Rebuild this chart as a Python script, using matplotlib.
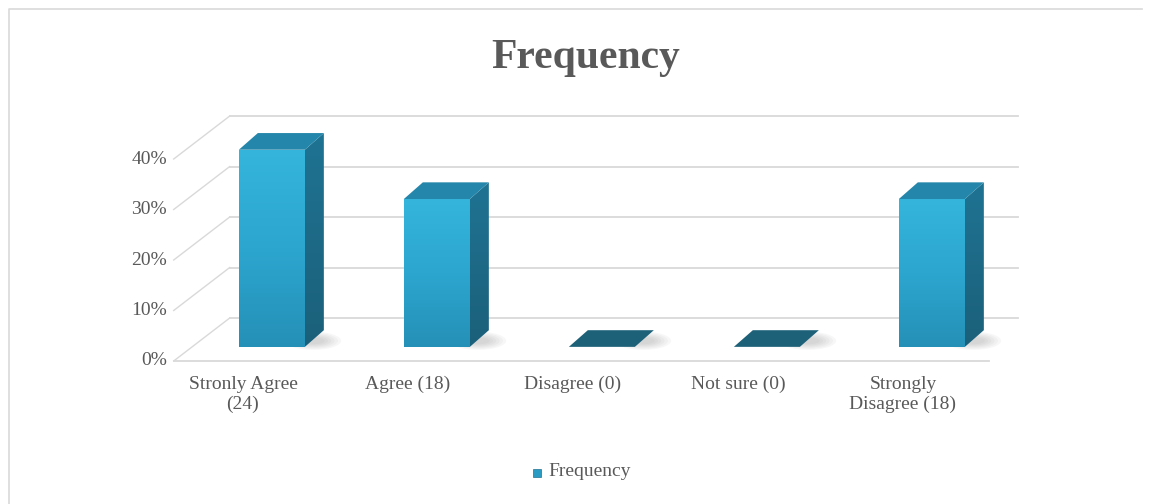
import matplotlib
matplotlib.use('Agg')

import matplotlib.pyplot as plt
import matplotlib.patches as mpatches
import matplotlib.lines as mlines
import numpy as np
from matplotlib.colors import LinearSegmentedColormap

# data
categories = ['Stronly Agree\n(24)', 'Agree (18)', 'Disagree (0)', 'Not sure (0)', 'Strongly\nDisagree (18)']
values = [40, 30, 0, 0, 30]
yticks = [0, 10, 20, 30, 40]
ytick_labels = ['0%', '10%', '20%', '30%', '40%']
series_name = 'Frequency'
title = 'Frequency'

plt.rcParams['font.family'] = ['Liberation Serif', 'DejaVu Serif']
txt = '#595959'
grid = '#d9d9d9'

fig = plt.figure(figsize=[11.5, 5.04], dpi=100)
ax = fig.add_axes([0, 0, 1, 1])
xlim = (-1.4727, 5.497)
ylim = (-28.32, 71.49)
ax.axis('off')

# fake 3d: floor/wall depth offset in data units
DX, DY = 0.339, 8.5


def p(x, y, d=0.0):
    return (x + d * DX, y + d * DY)


x_left = -0.42
x_right_front = 4.52
x_right_back = 4.36
for v in yticks:
    a, b = p(x_left, v, 1), p(x_right_back, v, 1)
    ax.plot([a[0], b[0]], [a[1], b[1]], color=grid, lw=1.3, zorder=1)
    a, b = p(x_left, v, 0), p(x_left, v, 1)
    ax.plot([a[0], b[0]], [a[1], b[1]], color=grid, lw=1.0, zorder=1)
ax.plot([x_left, x_right_front], [0, 0], color=grid, lw=1.3, zorder=1)

for v, lab in zip(yticks, ytick_labels):
    ax.text(x_left - 0.04, v, lab, ha='right', va='center', fontsize=14, color=txt)

for i, lab in enumerate(categories):
    ax.text(i, -3.0, lab, ha='center', va='top', fontsize=14, color=txt,
            linespacing=1.2)

# bars
bw = 0.40
bdx, bdy = 0.175, 2.8    # front plane of the bars
ex, ey = 0.115, 3.3      # bar depth
hs = 0.976               # bars sit a bit further back, so slightly shorter

front_cm = LinearSegmentedColormap.from_list('f', ['#2590b7', '#2ca6cf', '#35b5dc'])
side_cm = LinearSegmentedColormap.from_list('s', ['#1b607a', '#1f7393'])
grad = np.linspace(0, 1, 256).reshape(-1, 1)


def grad_poly(pts, cmap, z):
    poly = mpatches.Polygon(pts, closed=True, facecolor='none', edgecolor='none', zorder=z)
    ax.add_patch(poly)
    xs = [q[0] for q in pts]
    ys = [q[1] for q in pts]
    im = ax.imshow(grad, cmap=cmap, origin='lower', aspect='auto', zorder=z,
                   extent=[min(xs), max(xs), min(ys), max(ys)], interpolation='bilinear')
    im.set_clip_path(poly)


for i, v in enumerate(values):
    x0 = i + bdx - bw / 2
    x1 = x0 + bw
    y0 = bdy
    y1 = bdy + v * hs
    # soft shadow
    for k in range(6):
        sh = mpatches.Ellipse((x1 + 0.05, y0 + 1.2), 0.34 - k * 0.04, 3.6 - k * 0.45,
                              facecolor='#808080', alpha=0.06, edgecolor='none', zorder=2)
        ax.add_patch(sh)
    top = [(x0, y1), (x1, y1), (x1 + ex, y1 + ey), (x0 + ex, y1 + ey)]
    if v == 0:
        ax.add_patch(mpatches.Polygon(top, closed=True, facecolor='#1d6179',
                                      edgecolor='none', zorder=3))
        continue
    front = [(x0, y0), (x1, y0), (x1, y1), (x0, y1)]
    side = [(x1, y0), (x1 + ex, y0 + ey), (x1 + ex, y1 + ey), (x1, y1)]
    grad_poly(front, front_cm, 3)
    grad_poly(side, side_cm, 3)
    ax.add_patch(mpatches.Polygon(top, closed=True, facecolor='#2486aa',
                                  edgecolor='none', zorder=3))

ax.set_xlim(*xlim)
ax.set_ylim(*ylim)

# title
fig.text(586 / 1150, 1 - 68 / 504, title, ha='center', va='baseline',
         fontsize=30, fontweight='bold', color=txt)

# legend
fig.patches.append(mpatches.Rectangle((533 / 1150, 1 - 477 / 504), 8 / 1150, 8 / 504,
                                      transform=fig.transFigure, facecolor='#2a9cc4',
                                      edgecolor='#1f7393', lw=0.5))
fig.text(548 / 1150, 1 - 472 / 504, series_name, ha='left', va='center',
         fontsize=14, color=txt)

# chart border (left and top)
fig.lines.append(mlines.Line2D([9 / 1150, 9 / 1150, 1142 / 1150], [0, 1 - 9 / 504, 1 - 9 / 504],
                               transform=fig.transFigure, color='#d9d9d9', lw=1.2))

fig.savefig('out.png', dpi=100)
